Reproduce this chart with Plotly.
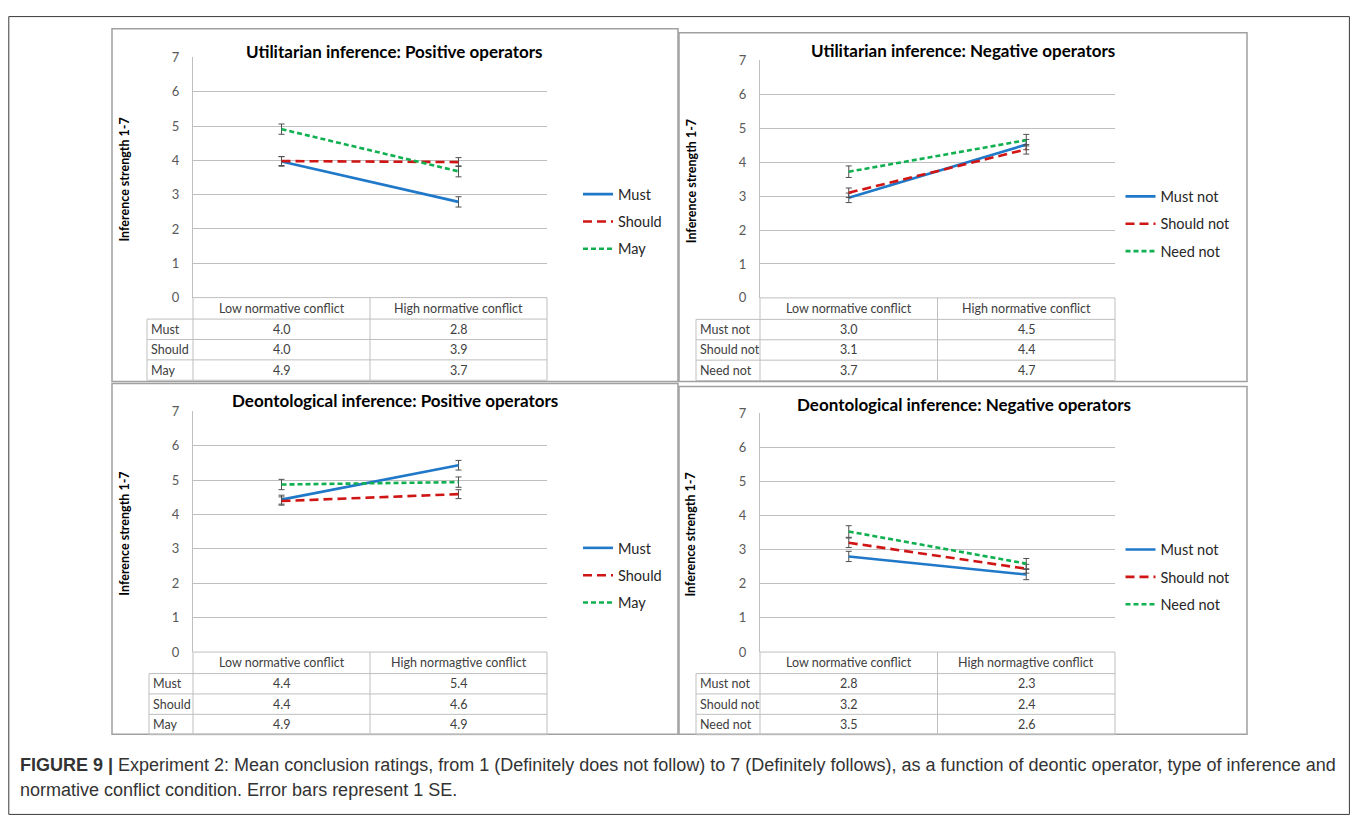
import plotly.graph_objects as go

# ---------------- data ----------------
cond_util = ["Low normative conflict", "High normative conflict"]
cond_deon = ["Low normative conflict", "High normagtive conflict"]

pos_ops = ["Must", "Should", "May"]
neg_ops = ["Must not", "Should not", "Need not"]

titles = ["Utilitarian inference: Positive operators",
          "Utilitarian inference: Negative operators",
          "Deontological inference: Positive operators",
          "Deontological inference: Negative operators"]

# plotted means (rows: operators, cols: low / high conflict)
util_pos_means = [[3.97, 2.79], [3.98, 3.95], [4.91, 3.68]]
util_neg_means = [[2.95, 4.52], [3.10, 4.38], [3.72, 4.65]]
deon_pos_means = [[4.43, 5.43], [4.39, 4.59], [4.87, 4.94]]
deon_neg_means = [[2.80, 2.27], [3.20, 2.44], [3.53, 2.59]]

# standard errors
util_pos_se = [[0.14, 0.15], [0.13, 0.13], [0.15, 0.16]]
util_neg_se = [[0.14, 0.15], [0.14, 0.14], [0.17, 0.17]]
deon_pos_se = [[0.13, 0.14], [0.12, 0.13], [0.15, 0.15]]
deon_neg_se = [[0.15, 0.15], [0.14, 0.13], [0.17, 0.15]]

# table values as printed
util_pos_table = [[4.0, 2.8], [4.0, 3.9], [4.9, 3.7]]
util_neg_table = [[3.0, 4.5], [3.1, 4.4], [3.7, 4.7]]
deon_pos_table = [[4.4, 5.4], [4.4, 4.6], [4.9, 4.9]]
deon_neg_table = [[2.8, 2.3], [3.2, 2.4], [3.5, 2.6]]

y_ticks = [0, 1, 2, 3, 4, 5, 6, 7]
y_title = "Inference strength 1-7"
caption_1 = ("<b>FIGURE 9 |</b> Experiment 2: Mean conclusion ratings, from 1 (Definitely does not follow) "
             "to 7 (Definitely follows), as a function of deontic operator, type of inference and")
caption_2 = "normative conflict condition. Error bars represent 1 SE."

# ---------------- layout helpers ----------------
# page body has an 8px margin, so the figure is 16px smaller than the window
OFF = 8
W, H = 1358 - 2 * OFF, 831 - 2 * OFF
SY, CY = 0.981, 8.37   # measured vertical placement of the rendered page

def px(x):
    return (x - OFF) / W

def py(y):
    yi = (y - CY) / SY
    return 1 - (yi - OFF) / H

colors = ["#1F78C8", "#D01515", "#10B050"]
dashes = ["solid", "9px,5px", "5px,3px"]
FONT = "Lato"
GRID = "#BFBFBF"
TXT = "#404040"

panels = [
    dict(ops=pos_ops, cond=cond_util, means=util_pos_means, se=util_pos_se, table=util_pos_table,
         box=(112, 29, 678, 382), plot=(193, 547, 57.7, 298.0), tleft=147, tcol=370,
         title=(394.5, 52), ytx=125, leg=(578, 195)),
    dict(ops=neg_ops, cond=cond_util, means=util_neg_means, se=util_neg_se, table=util_neg_table,
         box=(679, 33, 1247, 382), plot=(760, 1115, 60.7, 298.3), tleft=696, tcol=937.5,
         title=(962.5, 51), ytx=691, leg=(1120.5, 197.3)),
    dict(ops=pos_ops, cond=cond_deon, means=deon_pos_means, se=deon_pos_se, table=deon_pos_table,
         box=(112, 384, 678, 735), plot=(193, 547, 411.7, 652.7), tleft=149, tcol=370,
         title=(394.5, 401), ytx=125, leg=(578, 549)),
    dict(ops=neg_ops, cond=cond_deon, means=deon_neg_means, se=deon_neg_se, table=deon_neg_table,
         box=(679, 387, 1247, 735), plot=(760, 1115, 413.5, 652.7), tleft=696, tcol=937.5,
         title=(964, 405), ytx=691, leg=(1120.5, 550.7)),
]

fig = go.Figure()
shapes = []
annotations = []
layout = {}

for i, p in enumerate(panels):
    sfx = "" if i == 0 else str(i + 1)
    x0, x1, ytop, ybot = p["plot"]
    for j, op in enumerate(p["ops"]):
        fig.add_trace(go.Scatter(
            x=p["cond"], y=p["means"][j], mode="lines", name=op,
            line=dict(color=colors[j], width=2.6, dash=dashes[j]),
            error_y=dict(type="data", array=p["se"][j], color="#505050", thickness=1, width=3),
            xaxis="x" + sfx, yaxis="y" + sfx, legend="legend" + sfx,
            legendgroup=f"p{i}o{j}", showlegend=True))

    layout["xaxis" + sfx] = dict(domain=[px(x0), px(x1)], range=[-0.5, 1.5], type="category",
                                 showticklabels=False, showgrid=False, zeroline=False,
                                 showline=False, anchor="y" + sfx, fixedrange=True)
    layout["yaxis" + sfx] = dict(domain=[py(ybot), py(ytop)], range=[0, 7], tickvals=y_ticks,
                                 showgrid=True, gridcolor=GRID, gridwidth=1, zeroline=False,
                                 showline=True, linecolor=GRID, linewidth=1, ticks="",
                                 ticklabelstandoff=10,
                                 tickfont=dict(family=FONT, size=13, color="#595959"),
                                 anchor="x" + sfx, fixedrange=True)
    lx, ly = p["leg"]
    layout["legend" + sfx] = dict(x=px(lx), y=py(ly - 16.5), xanchor="left", yanchor="top",
                                  font=dict(family=FONT, size=14.5, color="#262626"),
                                  bgcolor="rgba(0,0,0,0)", borderwidth=0,
                                  tracegroupgap=5.5, itemwidth=30)

    # panel box
    bx0, by0, bx1, by1 = p["box"]
    shapes.append(dict(type="rect", xref="paper", yref="paper",
                       x0=px(bx0), x1=px(bx1), y0=py(by1), y1=py(by0),
                       line=dict(color="#A0A0A0", width=1.5), layer="below"))

    # title
    tx, ty = p["title"]
    annotations.append(dict(text="<b>" + titles[i] + "</b>", xref="paper", yref="paper",
                            x=px(tx), y=py(ty), showarrow=False,
                            xanchor="center", yanchor="middle",
                            font=dict(family=FONT, size=17, color="#000000")))
    # y axis title
    annotations.append(dict(text="<b>" + y_title + "</b>", xref="paper", yref="paper",
                            x=px(p["ytx"]), y=py((ytop + ybot) / 2 + 2), textangle=-90,
                            showarrow=False, xanchor="center", yanchor="middle",
                            font=dict(family=FONT, size=12.5, color="#000000")))

    # data table
    tl, tc = p["tleft"], p["tcol"]
    rows = [ybot, ybot + 21.5]
    for k in range(3):
        rows.append(rows[-1] + 20.4)
    line_kw = dict(color=GRID, width=1)
    for r in rows[1:]:
        shapes.append(dict(type="line", xref="paper", yref="paper", x0=px(tl), x1=px(x1),
                           y0=py(r), y1=py(r), line=line_kw))
    shapes.append(dict(type="line", xref="paper", yref="paper", x0=px(x0), x1=px(x1),
                       y0=py(rows[0]), y1=py(rows[0]), line=line_kw))
    for vx in (x0, tc, x1):
        shapes.append(dict(type="line", xref="paper", yref="paper", x0=px(vx), x1=px(vx),
                           y0=py(rows[0]), y1=py(rows[-1]), line=line_kw))
    shapes.append(dict(type="line", xref="paper", yref="paper", x0=px(tl), x1=px(tl),
                       y0=py(rows[1]), y1=py(rows[-1]), line=line_kw))
    col_centers = [(x0 + tc) / 2, (tc + x1) / 2]
    for c, lab in enumerate(p["cond"]):
        annotations.append(dict(text=lab, xref="paper", yref="paper", x=px(col_centers[c]),
                                y=py((rows[0] + rows[1]) / 2), showarrow=False,
                                xanchor="center", yanchor="middle",
                                font=dict(family=FONT, size=12.5, color=TXT)))
    for j, op in enumerate(p["ops"]):
        yc = py((rows[j + 1] + rows[j + 2]) / 2)
        annotations.append(dict(text=op, xref="paper", yref="paper", x=px(tl + 2), y=yc,
                                xanchor="left", yanchor="middle", showarrow=False,
                                font=dict(family=FONT, size=12.5, color=TXT)))
        for c in range(2):
            annotations.append(dict(text=f"{p['table'][j][c]:.1f}", xref="paper", yref="paper",
                                    x=px(col_centers[c]), y=yc, showarrow=False,
                                    xanchor="center", yanchor="middle",
                                    font=dict(family=FONT, size=12.5, color=TXT)))

# outer frame (as close to the page edge as the figure allows)
shapes.append(dict(type="rect", xref="paper", yref="paper", x0=px(8.8), x1=px(1349.4),
                   y0=0.6 / H, y1=1 - 0.6 / H, line=dict(color="#3A3A3A", width=1)))

# caption
annotations.append(dict(text=caption_1, xref="paper", yref="paper", x=px(18), y=py(766),
                        xanchor="left", yanchor="middle", showarrow=False,
                        font=dict(family="Liberation Sans", size=18, color="#333333")))
annotations.append(dict(text=caption_2, xref="paper", yref="paper", x=px(18), y=py(791),
                        xanchor="left", yanchor="middle", showarrow=False,
                        font=dict(family="Liberation Sans", size=18, color="#333333")))

fig.update_layout(width=W, height=H, margin=dict(l=0, r=0, t=0, b=0),
                  paper_bgcolor="white", plot_bgcolor="white",
                  shapes=shapes, annotations=annotations, **layout)

fig.write_html("out.html")
